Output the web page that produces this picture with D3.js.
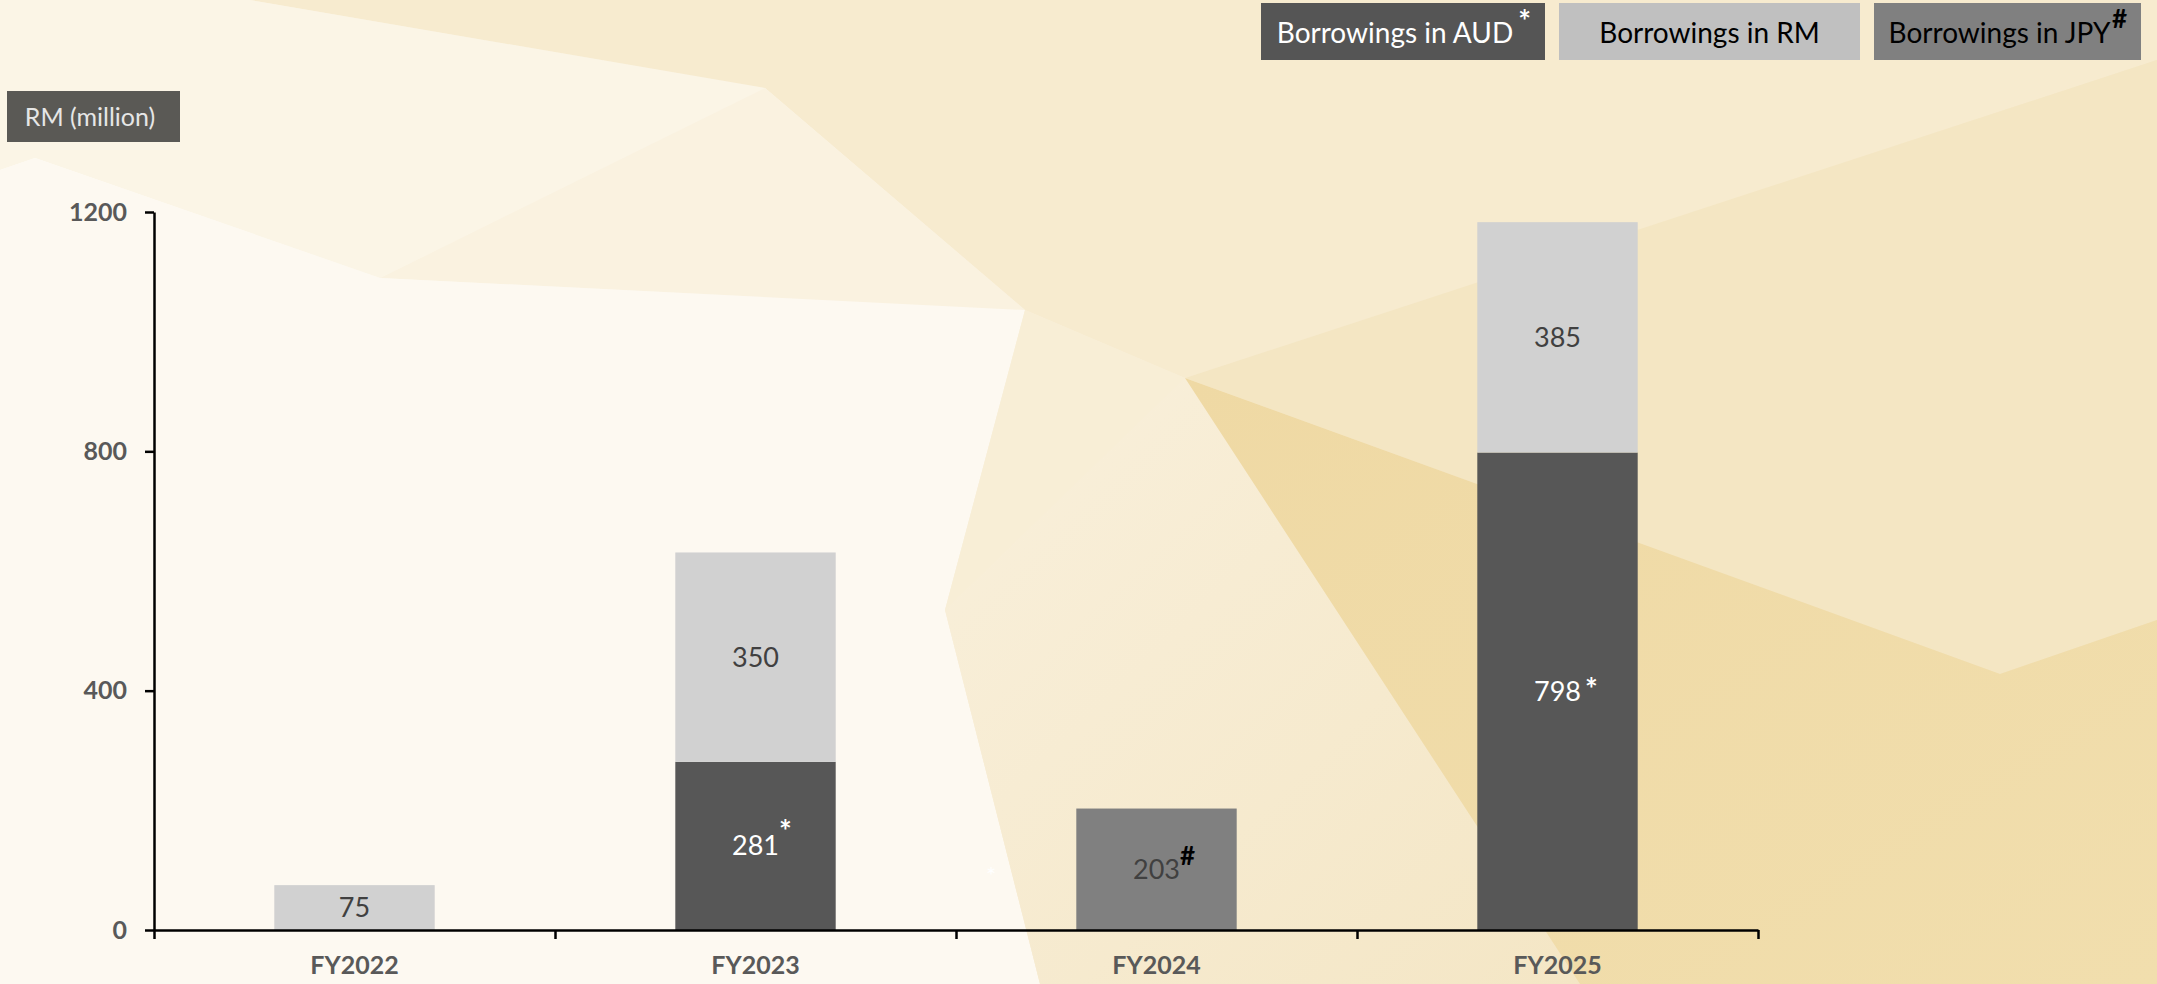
<!DOCTYPE html>
<html><head><meta charset="utf-8">
<script src="https://cdn.jsdelivr.net/npm/d3@7"></script>
<style>html,body{margin:0;padding:0;overflow:hidden;background:#fbf5e6}</style>
</head><body>
<svg id="chart" width="2157" height="984"></svg>
<script>
const categories = ["FY2022","FY2023","FY2024","FY2025"];
const seriesNames = ["Borrowings in AUD","Borrowings in RM","Borrowings in JPY"];
const audValues = [0, 281, 0, 798];
const rmValues = [75, 350, 0, 385];
const jpyValues = [0, 0, 203, 0];
const yTicks = [0, 400, 800, 1200];
const axisTitle = "RM (million)";

const svg = d3.select("#chart");
const W = 2157, H = 984;
const font = "Lato, 'Open Sans', sans-serif";

// background
const defs = svg.append("defs");
const g1 = defs.append("linearGradient").attr("id","bg").attr("x1","0").attr("y1","0.3").attr("x2","1").attr("y2","0.7");
g1.append("stop").attr("offset","0").attr("stop-color","#fefcf7");
g1.append("stop").attr("offset","0.5").attr("stop-color","#f8eed8");
g1.append("stop").attr("offset","1").attr("stop-color","#f2e2bb");
svg.append("rect").attr("width",W).attr("height",H).attr("fill","url(#bg)");
const g2 = defs.append("linearGradient").attr("id","mid").attr("x1","0").attr("y1","0").attr("x2","1").attr("y2","1");
g2.append("stop").attr("offset","0").attr("stop-color","#f9f0dc");
g2.append("stop").attr("offset","1").attr("stop-color","#f4e6c5");
const g3 = defs.append("linearGradient").attr("id","gold").attr("x1","0").attr("y1","0").attr("x2","1").attr("y2","1");
g3.append("stop").attr("offset","0").attr("stop-color","#efd9a4");
g3.append("stop").attr("offset","1").attr("stop-color","#f1dead");
const polys = [
  {p:[[0,0],[250,0],[765,88],[380,278],[35,158],[0,170]], c:"#fbf5e6"},
  {p:[[250,0],[2157,0],[2157,60],[1185,378],[1025,310],[765,88]], c:"#f7ebcf"},
  {p:[[765,88],[1025,310],[380,278]], c:"#faf2e0"},
  {p:[[0,170],[35,158],[380,278],[1025,310],[945,610],[1040,984],[0,984]], c:"#fdf9f1"},
  {p:[[1025,310],[1185,378],[945,610]], c:"#f8eed6"},
  {p:[[945,610],[1185,378],[1580,984],[1040,984]], c:"url(#mid)"},
  {p:[[1185,378],[2157,60],[2157,620],[2000,674]], c:"#f4e6c3"},
  {p:[[1185,378],[2000,674],[2157,620],[2157,984],[1580,984]], c:"url(#gold)"}
];
svg.append("g").selectAll("polygon").data(polys).join("polygon")
  .attr("points", d => d.p.map(q=>q.join(",")).join(" "))
  .attr("fill", d=>d.c);

const x0 = 154, x1 = 1758, yBase = 930, yTop = 212;
const x = d3.scaleBand().domain(categories).range([x0,x1]).paddingInner(0.6).paddingOuter(0.3);
const y = d3.scaleLinear().domain([0,1200]).range([yBase,yTop]);

const colors = {aud:"#575757", rm:"#d1d1d1", jpy:"#808080"};
const data = categories.map((c,i)=>({cat:c, aud:audValues[i], rm:rmValues[i], jpy:jpyValues[i]}));
const stack = d3.stack().keys(["aud","jpy","rm"])(data);

const bars = svg.append("g");
stack.forEach(layer=>{
  bars.append("g").attr("fill", colors[layer.key]).selectAll("rect").data(layer.filter(d=>d[1]-d[0]>0)).join("rect")
    .attr("x", d=>x(d.data.cat)).attr("width", x.bandwidth())
    .attr("y", d=>y(d[1])).attr("height", d=>y(d[0])-y(d[1]));
});

// labels
const labelMeta = {aud:{fill:"#ffffff", sup:"*", supFill:"#ffffff"}, rm:{fill:"#404040", sup:"", supFill:""}, jpy:{fill:"#404040", sup:"#", supFill:"#000000"}};
const lbl = svg.append("g").attr("font-family", font).attr("font-size", 27);
stack.forEach(layer=>{
  layer.filter(d=>d[1]-d[0]>0).forEach(d=>{
    const m = labelMeta[layer.key];
    const cx = x(d.data.cat) + x.bandwidth()/2;
    const cy = (y(d[0])+y(d[1]))/2;
    const t = lbl.append("text").attr("x", cx).attr("y", cy).attr("dy","0.35em")
      .attr("text-anchor","middle").attr("fill", m.fill).text(d[1]-d[0]);
    if (m.sup) {
      const bb = t.node().getBBox();
      const isFY25 = d.data.cat === "FY2025";
      lbl.append("text").attr("x", bb.x+bb.width+(isFY25?4:0)).attr("y", isFY25 ? cy+9 : cy-4)
        .attr("font-weight","bold").attr("font-size", m.sup==="#"?26:30).attr("fill", m.supFill).text(m.sup);
    }
  });
});
// stray asterisk seen on the slide
lbl.append("text").attr("x", 991).attr("y", 884).attr("text-anchor","middle").attr("fill","#ffffff").attr("font-size",24).text("*");

// axes
const yAxis = d3.axisLeft(y).tickValues(yTicks).tickFormat(d3.format("d")).tickSizeInner(9).tickSizeOuter(0).tickPadding(18);
const ya = svg.append("g").attr("transform",`translate(${x0},0)`).call(yAxis);
ya.select(".domain").attr("stroke","#000").attr("stroke-width",2.5);
ya.selectAll(".tick line").attr("stroke","#000").attr("stroke-width",2.5);
ya.selectAll(".tick text").attr("font-family",font).attr("font-weight","bold").attr("font-size",25).attr("fill","#595959");

const xEdge = d3.scaleLinear().domain([0,categories.length]).range([x0,x1]);
const xa = svg.append("g").attr("transform",`translate(0,${yBase})`)
  .call(d3.axisBottom(xEdge).tickValues(d3.range(categories.length+1)).tickFormat("").tickSizeInner(9).tickSizeOuter(0));
xa.select(".domain").attr("stroke","#000").attr("stroke-width",2.5);
xa.selectAll(".tick line").attr("stroke","#000").attr("stroke-width",2.5);
const xl = svg.append("g").attr("transform",`translate(0,${yBase})`)
  .call(d3.axisBottom(x).tickSize(0).tickPadding(26));
xl.select(".domain").remove();
xl.selectAll(".tick text").attr("font-family",font).attr("font-weight","bold").attr("font-size",25).attr("fill","#595959");

// axis title box
svg.append("rect").attr("x",7).attr("y",91).attr("width",173).attr("height",51).attr("fill","#5a5955");
svg.append("text").attr("x",90).attr("y",117).attr("dy","0.35em").attr("text-anchor","middle")
  .attr("font-family",font).attr("font-size",25).attr("fill","#e6e6e6").text(axisTitle);

// legend
const legend = [
  {name:seriesNames[0], x:1261, w:284, fill:"#555555", tc:"#ffffff", sup:"*", supc:"#ffffff"},
  {name:seriesNames[1], x:1559, w:301, fill:"#c0c0c0", tc:"#000000", sup:"", supc:""},
  {name:seriesNames[2], x:1874, w:267, fill:"#808080", tc:"#000000", sup:"#", supc:"#000000"}
];
const lg = svg.append("g").attr("font-family",font);
legend.forEach(l=>{
  lg.append("rect").attr("x",l.x).attr("y",3).attr("width",l.w).attr("height",57).attr("fill",l.fill);
  const t = lg.append("text").attr("x", l.x + l.w/2 - (l.sup?8:0)).attr("y",33).attr("dy","0.35em")
    .attr("text-anchor","middle").attr("font-size",28).attr("fill",l.tc).text(l.name);
  if (l.sup) {
    const bb = t.node().getBBox();
    lg.append("text").attr("x", bb.x+bb.width+(l.sup==="*"?5:1)).attr("y", l.sup==="*"?32:28).attr("font-weight","bold")
      .attr("font-size", l.sup==="*"?30:26).attr("fill",l.supc).text(l.sup);
  }
});
</script>
</body></html>
